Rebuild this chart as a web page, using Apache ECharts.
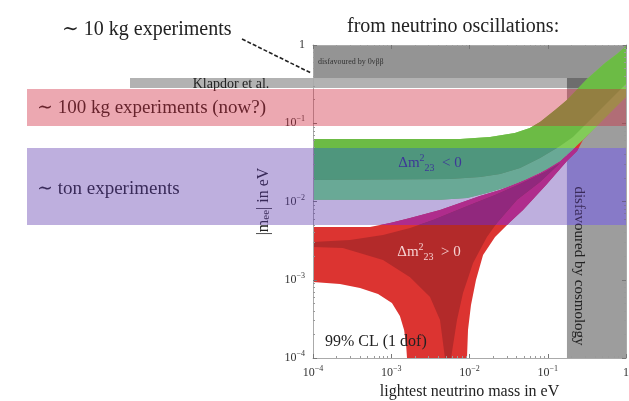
<!DOCTYPE html>
<html>
<head>
<meta charset="utf-8">
<script src="https://cdn.jsdelivr.net/npm/echarts@6/dist/echarts.min.js"></script>
<style>html,body{margin:0;padding:0;background:#fff}#chart{width:629px;height:401px}</style>
</head>
<body>
<div id="chart"></div>
<script>
// all masses in eV (x: lightest neutrino mass, y: |m_ee|)
var massMin = 1e-4, massMax = 1;

// inverted ordering (green), common upper edge and the two lower edges
var ihUpperM      = [1e-4, 7.6e-3, 1.83e-2, 3.8e-2, 5.9e-2, 7.96e-2, 0.124, 0.176, 0.318, 0.54, 0.767, 1.0];
var ihUpperMee    = [0.0629, 0.0629, 0.0667, 0.075, 0.087, 0.104, 0.148, 0.198, 0.368, 0.589, 0.767, 0.97];
var ihInnerLowM   = [1e-4, 5.6e-3, 1.36e-2, 2.45e-2, 4.42e-2, 7.96e-2, 0.144, 0.21, 0.347, 0.624, 1.0];
var ihInnerLowMee = [0.0188, 0.0194, 0.0206, 0.0225, 0.0268, 0.036, 0.0512, 0.0667, 0.11, 0.198, 0.318];
var ihOuterLowM   = [1e-4, 4.2e-3, 9.3e-3, 1.67e-2, 3.0e-2, 5.4e-2, 9.8e-2, 0.144, 0.21, 0.282, 0.466, 0.723, 1.0];
var ihOuterLowMee = [0.0105, 0.0105, 0.0111, 0.0128, 0.0153, 0.0194, 0.026, 0.033, 0.0469, 0.0611, 0.1007, 0.157, 0.216];

// normal ordering (red), outline: upper edge, right edge, edge of the white hole
var nhUpperM   = [1e-4, 5.35e-4, 9.64e-4, 1.74e-3, 4.2e-3, 8.75e-3, 1.36e-2, 2.45e-2, 4.42e-2, 7.96e-2, 0.144, 0.21, 0.466, 1.0];
var nhUpperMee = [0.00472, 0.00472, 0.00531, 0.00615, 0.00778, 0.0101, 0.0118, 0.014, 0.0177, 0.0231, 0.033, 0.0455, 0.127, 0.357];
var nhRightM   = [1.0, 0.466, 0.282, 0.237, 0.176, 9.77e-2, 4.83e-2, 3.3e-2, 2.12e-2, 1.49e-2, 1.21e-2, 1.045e-2, 9.57e-3, 9.29e-3];
var nhRightMee = [0.23, 0.104, 0.0611, 0.0442, 0.033, 0.0167, 0.00778, 0.00547, 0.00352, 0.00207, 0.000993, 0.000476, 0.000228, 1e-4];
var nhHoleM    = [1.59e-3, 1.55e-3, 1.46e-3, 1.29e-3, 1.02e-3, 6.78e-4, 3.99e-4, 2.21e-4, 1e-4];
var nhHoleMee  = [1e-4, 1.47e-4, 2.28e-4, 3.44e-4, 5.05e-4, 6.58e-4, 7.85e-4, 8.83e-4, 9.36e-4];

// darker inner part of the normal ordering
var nhDarkUpperM   = [1e-4, 2.97e-4, 7.85e-4, 1.74e-3, 3.42e-3, 6.53e-3, 1.17e-2, 2.12e-2, 4.42e-2, 9.22e-2, 0.144];
var nhDarkUpperMee = [0.00304, 0.00322, 0.00373, 0.00458, 0.00581, 0.00756, 0.00957, 0.0121, 0.0167, 0.0238, 0.031];
var nhDarkRightM   = [7.96e-2, 4.05e-2, 2.24e-2, 1.67e-2, 1.11e-2, 8.26e-3, 6.92e-3, 5.81e-3];
var nhDarkRightMee = [0.0177, 0.0105, 0.00531, 0.00352, 0.00164, 0.000678, 0.000306, 1e-4];
var nhDarkLeftM    = [4.86e-3, 4.2e-3, 3.13e-3, 1.74e-3, 7.85e-4, 2.41e-4, 1e-4];
var nhDarkLeftMee  = [1e-4, 3.06e-4, 6.03e-4, 1.08e-3, 1.79e-3, 2.55e-3, 2.62e-3];

// horizontal bands in |m_ee| and the cosmology bound in m
var dbdBand      = [0.379, 1];        // disfavoured by 0vbb
var klapdorBand  = [0.282, 0.379];
var kg100Band    = [0.0922, 0.274];
var tonBand      = [0.00501, 0.0483];
var cosmoMass    = [0.176, 1];

var serif = '"Liberation Serif", "DejaVu Serif", serif';
var chart = echarts.init(document.getElementById('chart'));

function pairs(ms, mees) {
  return ms.map(function (m, i) { return [m, mees[i]]; });
}

// keep the part of a polygon with lo <= mee <= hi (straight edges in log-log)
function clipToBand(pts, lo, hi) {
  function cross(a, b, v) {
    var la = Math.log10(a[1]), lb = Math.log10(b[1]);
    var t = (Math.log10(v) - la) / (lb - la);
    var lx = Math.log10(a[0]) + t * (Math.log10(b[0]) - Math.log10(a[0]));
    return [Math.pow(10, lx), v];
  }
  function cut(poly, inside, v) {
    var out = [];
    for (var i = 0; i < poly.length; i++) {
      var a = poly[i], b = poly[(i + 1) % poly.length];
      if (inside(a)) out.push(a);
      if (inside(a) !== inside(b)) out.push(cross(a, b, v));
    }
    return out;
  }
  var p = cut(pts, function (q) { return q[1] >= lo; }, lo);
  return cut(p, function (q) { return q[1] <= hi; }, hi);
}

function polySeries(pts, fill, z) {
  return {
    type: 'custom', coordinateSystem: 'cartesian2d', z: z, silent: true, clip: true,
    data: [pts[0]],
    renderItem: function (params, api) {
      return {
        type: 'polygon',
        shape: { points: pts.map(function (p) { return api.coord(p); }) },
        style: { fill: fill }
      };
    }
  };
}

function boxSeries(m, mee, leftPx, fill, z) {
  return {
    type: 'custom', coordinateSystem: 'cartesian2d', z: z, silent: true, clip: false,
    data: [[m[1], mee[1]]],
    renderItem: function (params, api) {
      var a = api.coord([m[0], mee[1]]), b = api.coord([m[1], mee[0]]);
      var x0 = leftPx == null ? a[0] : leftPx;
      return {
        type: 'rect',
        shape: { x: x0, y: a[1], width: b[0] - x0, height: b[1] - a[1] },
        style: { fill: fill }
      };
    }
  };
}

var ihOuter = pairs(ihUpperM, ihUpperMee).concat(pairs(ihOuterLowM, ihOuterLowMee).reverse());
var ihInner = pairs(ihUpperM, ihUpperMee).concat(pairs(ihInnerLowM, ihInnerLowMee).reverse());
var nhOuter = pairs(nhUpperM, nhUpperMee).concat(pairs(nhRightM, nhRightMee), pairs(nhHoleM, nhHoleMee));
var nhDark = pairs(nhDarkUpperM, nhDarkUpperMee).concat(pairs(nhDarkRightM, nhDarkRightMee), pairs(nhDarkLeftM, nhDarkLeftMee));

// purple overlay sits on top; parts under it get colours that come out right after blending
var series = [
  boxSeries([massMin, massMax], dbdBand, null, '#949494', 1),
  boxSeries(cosmoMass, [1e-4, dbdBand[0]], null, '#9d9d9d', 2),
  boxSeries(cosmoMass, tonBand, null, '#a4a7db', 3),
  boxSeries([massMin, massMax], klapdorBand, 130, 'rgba(0,0,0,0.3)', 4),
  polySeries(nhOuter, '#dc3431', 5),
  polySeries(clipToBand(nhOuter, tonBand[0], tonBand[1]), '#e62677', 6),
  polySeries(nhDark, '#b32a2a', 7),
  polySeries(clipToBand(nhDark, tonBand[0], tonBand[1]), '#b41e5e', 8),
  polySeries(ihOuter, '#82cc58', 9),
  polySeries(clipToBand(ihOuter, tonBand[0], tonBand[1]), '#72f587', 10),
  polySeries(ihInner, '#6cbb45', 11),
  polySeries(clipToBand(ihInner, tonBand[0], tonBand[1]), '#46d55e', 12),
  boxSeries([massMin, massMax], kg100Band, 27, 'rgba(207,37,60,0.4)', 20),
  boxSeries([massMin, massMax], tonBand, 27, 'rgba(92,55,172,0.4)', 21)
];

function powLabel(v) {
  var e = Math.round(Math.log10(v));
  return e === 0 ? '{b|1}' : '{b|10}{s|' + String(e).replace('-', '\u2212') + '}';
}
var labelRich = {
  b: { fontFamily: serif, fontSize: 12, color: '#333', lineHeight: 16 },
  s: { fontFamily: serif, fontSize: 8, color: '#333', verticalAlign: 'top', lineHeight: 10 }
};

function logAxis(extra) {
  var ax = {
    type: 'log', logBase: 10, min: massMin, max: massMax, z: 13,
    axisLine: { lineStyle: { color: '#aaa', width: 1 } },
    axisTick: { inside: true, length: 4, lineStyle: { color: '#777' } },
    minorTick: { show: true, splitNumber: 9, length: 2, lineStyle: { color: '#999' } },
    splitLine: { show: false },
    minorSplitLine: { show: false },
    axisLabel: { show: false }
  };
  return Object.assign(ax, extra);
}

function txt(text, x, y, size, opts) {
  opts = opts || {};
  return {
    type: 'text', x: x, y: y, z: 14, rotation: opts.rotation || 0, silent: true,
    style: {
      text: text, fontFamily: serif, fontSize: size, fill: opts.fill || '#222',
      align: opts.align || 'left', verticalAlign: 'middle', rich: opts.rich
    }
  };
}

var dmRich = function (color) {
  return {
    b: { fontFamily: serif, fontSize: 15, fill: color, color: color, lineHeight: 20 },
    s: { fontFamily: serif, fontSize: 10, fill: color, color: color, verticalAlign: 'top', lineHeight: 11 },
    u: { fontFamily: serif, fontSize: 10, fill: color, color: color, verticalAlign: 'bottom', lineHeight: 11 }
  };
};

chart.setOption({
  animation: false,
  backgroundColor: '#fff',
  grid: { left: 313, right: 3, top: 45, bottom: 43, outerBoundsMode: 'none' },
  xAxis: [
    logAxis({
      position: 'bottom',
      axisLabel: { show: true, margin: 7, formatter: powLabel, rich: labelRich },
      name: 'lightest neutrino mass in eV', nameLocation: 'middle', nameGap: 25,
      nameTextStyle: { fontFamily: serif, fontSize: 16, color: '#222' }
    }),
    logAxis({ position: 'top' })
  ],
  yAxis: [
    logAxis({
      position: 'left',
      axisLabel: { show: true, margin: 8, formatter: powLabel, rich: labelRich },
      name: '|m{e|ee}| in eV', nameLocation: 'middle', nameGap: 41,
      nameTextStyle: {
        fontFamily: serif, fontSize: 16, color: '#222',
        rich: { e: { fontFamily: serif, fontSize: 11, color: '#222', verticalAlign: 'bottom' } }
      }
    }),
    logAxis({ position: 'right' })
  ],
  series: series,
  graphic: [
    txt('from neutrino oscillations:', 347, 27, 20),
    txt('\u223C 10 kg experiments', 62, 30, 20),
    { type: 'line', z: 14, silent: true, shape: { x1: 242, y1: 39, x2: 311, y2: 73 },
      style: { stroke: '#222', lineWidth: 1.6, lineDash: [4, 2] } },
    txt('Klapdor et al.', 231, 84, 14, { align: 'center' }),
    txt('\u223C 100 kg experiments (now?)', 37, 108, 19),
    txt('\u223C ton experiments', 37, 189, 19),
    txt('disfavoured by 0\u03BD\u03B2\u03B2', 318, 62, 8, { fill: '#333' }),
    txt('{b|\u0394m}{s|2}{u|23}{b|  < 0}', 430, 163, 15, { align: 'center', rich: dmRich('#28388a') }),
    txt('{b|\u0394m}{s|2}{u|23}{b|  > 0}', 429, 252, 15, { align: 'center', rich: dmRich('#f6d2d2') }),
    txt('99% CL (1 dof)', 325, 342, 16),
    txt('disfavoured by cosmology', 579, 266, 15, { align: 'center', rotation: -Math.PI / 2 })
  ]
});
</script>
</body>
</html>
